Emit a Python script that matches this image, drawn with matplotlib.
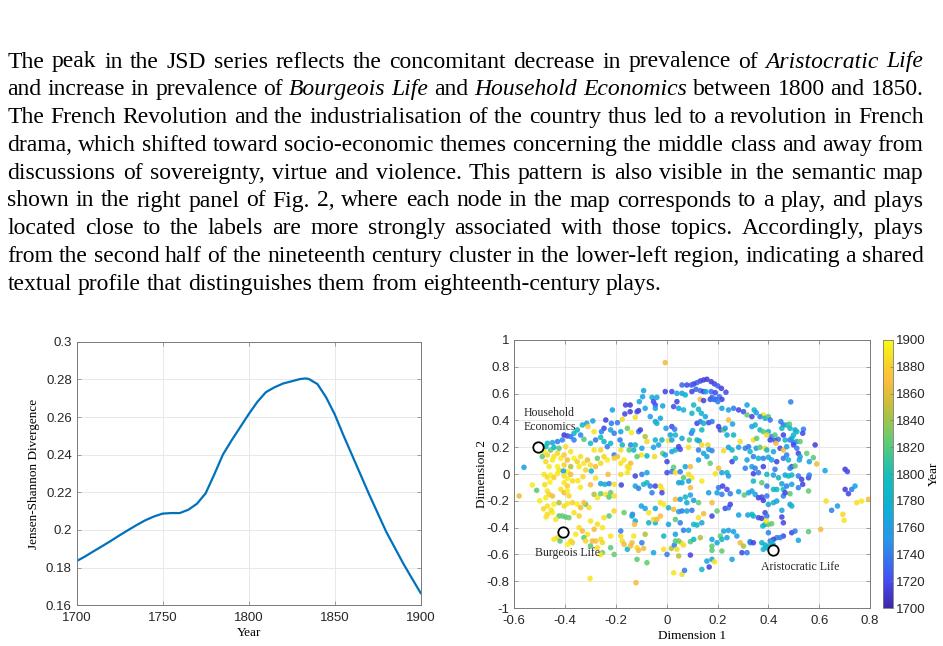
import numpy as np
import matplotlib
matplotlib.use("Agg")
import matplotlib.pyplot as plt
from matplotlib.colors import LinearSegmentedColormap

# ---- paragraph above the figure (segment, italic) ----
paragraph = [
    [("The peak in the JSD series reflects the concomitant decrease in prevalence of", False), ("Aristocratic Life", True)],
    [("and increase in prevalence of", False), ("Bourgeois Life", True), ("and", False), ("Household Economics", True),
     ("between 1800 and 1850.", False)],
    [("The French Revolution and the industrialisation of the country thus led to a revolution in French", False)],
    [("drama, which shifted toward socio-economic themes concerning the middle class and away from", False)],
    [("discussions of sovereignty, virtue and violence. This pattern is also visible in the semantic map", False)],
    [("shown in the right panel of Fig. 2, where each node in the map corresponds to a play, and plays", False)],
    [("located close to the labels are more strongly associated with those topics. Accordingly, plays", False)],
    [("from the second half of the nineteenth century cluster in the lower-left region, indicating a shared", False)],
    [("textual profile that distinguishes them from eighteenth-century plays.", False)],
]

# ---- left panel: JSD series ----
jsd_year = [1700, 1705, 1710, 1715, 1720, 1725, 1730, 1735, 1740, 1745, 1750, 1755, 1760, 1765,
            1770, 1775, 1780, 1785, 1788, 1790, 1795, 1800, 1805, 1810, 1815, 1820, 1825, 1830,
            1833, 1835, 1840, 1845, 1850, 1855, 1860, 1865, 1870, 1875, 1880, 1885, 1890, 1895, 1900]
jsd_value = [0.1835, 0.1860, 0.1888, 0.1915, 0.1943, 0.1972, 0.2000, 0.2027, 0.2052, 0.2072,
             0.2087, 0.2090, 0.2090, 0.2108, 0.2140, 0.2195, 0.2295, 0.2400, 0.2445, 0.2475,
             0.2545, 0.2615, 0.2680, 0.2732, 0.2758, 0.2778, 0.2790, 0.2802, 0.2805, 0.2802,
             0.2775, 0.2705, 0.2615, 0.2505, 0.2400, 0.2295, 0.2190, 0.2090, 0.1990, 0.1905,
             0.1820, 0.1742, 0.1665]

# ---- right panel: semantic map, one point per play ----
# upper-left (Household Economics area)
x_ul = [-0.162, -0.144, -0.214, -0.165, -0.144, -0.175, -0.194, -0.218, -0.240, -0.291,
        -0.315, -0.332, -0.247, -0.257, -0.286, -0.310, -0.221, -0.207, -0.181, -0.155,
        -0.139, -0.184, -0.175, -0.142, -0.148, -0.181, -0.207, -0.260, -0.247, -0.280,
        -0.300, -0.326, -0.352, -0.339, -0.365, -0.404, -0.391, -0.378, -0.365, -0.411,
        -0.430, -0.450, -0.470, -0.476, -0.234, -0.221, -0.260, -0.286, -0.142, -0.168,
        -0.194, -0.148, -0.562, -0.483, -0.470, -0.457, -0.444, -0.430, -0.417, -0.404,
        -0.391, -0.378, -0.365, -0.352, -0.339, -0.326, -0.312, -0.476, -0.463, -0.430,
        -0.404, -0.378, -0.345, -0.300, -0.280, -0.260, -0.234, -0.207, -0.181, -0.155,
        -0.490, -0.444, -0.424, -0.398, -0.450, -0.273, -0.247, -0.424, -0.391, -0.319]
y_ul = [0.515, 0.515, 0.478, 0.448, 0.465, 0.408, 0.383, 0.378, 0.403, 0.396,
        0.378, 0.366, 0.341, 0.316, 0.316, 0.354, 0.329, 0.304, 0.316, 0.341,
        0.309, 0.254, 0.217, 0.217, 0.179, 0.179, 0.142, 0.274, 0.242, 0.254,
        0.229, 0.259, 0.329, 0.291, 0.304, 0.291, 0.284, 0.279, 0.254, 0.254,
        0.242, 0.234, 0.229, 0.204, 0.204, 0.229, 0.179, 0.179, 0.080, 0.105,
        0.130, 0.043, 0.050, 0.167, 0.142, 0.179, 0.130, 0.155, 0.117, 0.142,
        0.105, 0.167, 0.117, 0.092, 0.130, 0.080, 0.105, 0.092, 0.055, 0.055,
        0.067, 0.055, 0.055, 0.067, 0.055, 0.080, 0.105, 0.117, 0.080, 0.055,
        0.130, 0.199, 0.192, 0.204, 0.105, 0.117, 0.130, 0.030, 0.018, 0.030]
yr_ul = [1715, 1712, 1762, 1718, 1715, 1885, 1740, 1738, 1712, 1765,
         1760, 1788, 1716, 1742, 1890, 1880, 1762, 1740, 1765, 1825,
         1892, 1738, 1785, 1742, 1822, 1888, 1740, 1790, 1786, 1736,
         1792, 1820, 1786, 1744, 1784, 1712, 1718, 1738, 1742, 1745,
         1742, 1762, 1790, 1795, 1740, 1788, 1885, 1890, 1866, 1892,
         1868, 1888, 1760, 1895, 1880, 1822, 1890, 1885, 1893, 1878,
         1868, 1890, 1896, 1882, 1888, 1892, 1866, 1885, 1890, 1895,
         1880, 1845, 1892, 1888, 1868, 1885, 1894, 1880, 1890, 1886,
         1822, 1790, 1818, 1888, 1892, 1825, 1884, 1890, 1896, 1882]

# upper-centre (top arc)
x_uc = [-0.006, 0.158, 0.145, 0.132, 0.119, 0.106, 0.097, 0.079, 0.060, 0.175,
        0.188, 0.201, 0.215, 0.233, 0.115, 0.099, 0.132, 0.145, 0.154, 0.175,
        0.191, 0.207, 0.217, 0.191, 0.178, -0.006, 0.020, 0.040, 0.060, 0.073,
        -0.091, -0.095, -0.058, -0.039, -0.052, -0.045, -0.045, -0.108, 0.040, 0.027,
        0.047, 0.066, 0.106, 0.125, 0.099, 0.132, 0.145, 0.171, 0.184, 0.201,
        -0.111, -0.117, -0.085, -0.065, -0.016, -0.124, -0.045, -0.039, -0.025, -0.003,
        0.020, 0.031, 0.034, 0.014, 0.119, 0.132, 0.145, 0.165, 0.178, 0.138,
        0.136, 0.152, 0.097, 0.102, 0.119, 0.128, 0.138, 0.162, 0.204, 0.211,
        0.224, 0.230, 0.243, 0.259, 0.237, 0.263, 0.217, 0.243, 0.263, 0.283,
        0.302, 0.316, 0.316, -0.111, -0.104, -0.085, -0.078, -0.124, -0.045, -0.019,
        0.007, 0.020, 0.060, 0.089, -0.130, -0.098, -0.052, -0.032, -0.016, -0.100,
        -0.048, -0.006, 0.020, 0.034, 0.047, 0.053, 0.086, 0.125, 0.145, 0.158,
        0.165, 0.178, 0.224, 0.243, 0.257, 0.289, 0.283, 0.309, 0.322, -0.117,
        -0.078, 0.001, 0.027, 0.020, 0.073, 0.093, 0.125, 0.171, 0.204, 0.257,
        0.270, 0.316, 0.309]
y_uc = [0.831, 0.707, 0.702, 0.694, 0.682, 0.672, 0.664, 0.664, 0.664, 0.689,
        0.672, 0.657, 0.639, 0.610, 0.632, 0.615, 0.622, 0.615, 0.615, 0.615,
        0.607, 0.577, 0.557, 0.557, 0.572, 0.615, 0.615, 0.602, 0.602, 0.590,
        0.622, 0.577, 0.572, 0.572, 0.540, 0.515, 0.490, 0.540, 0.540, 0.503,
        0.490, 0.478, 0.515, 0.483, 0.453, 0.557, 0.548, 0.557, 0.557, 0.540,
        0.473, 0.465, 0.490, 0.428, 0.508, 0.423, 0.391, 0.378, 0.416, 0.341,
        0.354, 0.334, 0.291, 0.291, 0.378, 0.391, 0.378, 0.383, 0.391, 0.329,
        0.453, 0.428, 0.304, 0.324, 0.254, 0.247, 0.217, 0.217, 0.354, 0.329,
        0.329, 0.341, 0.403, 0.373, 0.291, 0.291, 0.490, 0.478, 0.490, 0.478,
        0.465, 0.515, 0.441, 0.316, 0.329, 0.279, 0.242, 0.217, 0.254, 0.254,
        0.249, 0.254, 0.266, 0.254, 0.179, 0.192, 0.199, 0.217, 0.154, 0.142,
        0.130, 0.142, 0.167, 0.179, 0.204, 0.184, 0.199, 0.179, 0.154, 0.130,
        0.184, 0.174, 0.174, 0.199, 0.179, 0.242, 0.199, 0.192, 0.204, 0.130,
        0.135, 0.092, 0.050, 0.018, 0.055, 0.055, 0.105, 0.080, 0.043, 0.092,
        0.117, 0.105, 0.043]
yr_uc = [1866, 1712, 1714, 1716, 1730, 1715, 1728, 1718, 1732, 1712,
         1716, 1728, 1714, 1718, 1730, 1716, 1735, 1714, 1760, 1735,
         1718, 1738, 1716, 1720, 1734, 1716, 1718, 1762, 1765, 1785,
         1765, 1760, 1782, 1768, 1718, 1720, 1762, 1765, 1716, 1720,
         1762, 1785, 1788, 1784, 1790, 1870, 1716, 1720, 1738, 1742,
         1714, 1718, 1765, 1760, 1766, 1888, 1762, 1786, 1764, 1760,
         1718, 1740, 1788, 1764, 1716, 1740, 1786, 1718, 1738, 1790,
         1784, 1766, 1742, 1762, 1788, 1765, 1885, 1880, 1716, 1720,
         1822, 1765, 1868, 1762, 1766, 1788, 1764, 1760, 1740, 1716,
         1720, 1765, 1825, 1740, 1716, 1845, 1885, 1790, 1786, 1788,
         1890, 1762, 1765, 1820, 1788, 1762, 1765, 1760, 1825, 1890,
         1885, 1762, 1766, 1788, 1716, 1720, 1888, 1740, 1762, 1765,
         1760, 1742, 1885, 1764, 1788, 1886, 1762, 1740, 1738, 1822,
         1786, 1716, 1822, 1740, 1765, 1866, 1762, 1825, 1868, 1716,
         1788, 1764, 1740]

# upper-right
x_ur = [0.488, 0.344, 0.352, 0.380, 0.387, 0.400, 0.407, 0.367, 0.335, 0.449,
        0.459, 0.472, 0.483, 0.485, 0.453, 0.335, 0.348, 0.367, 0.380, 0.400,
        0.394, 0.413, 0.426, 0.439, 0.459, 0.466, 0.485, 0.492, 0.505, 0.499,
        0.512, 0.538, 0.535, 0.341, 0.354, 0.499, 0.512, 0.525, 0.407, 0.426,
        0.352, 0.367, 0.387, 0.394, 0.420, 0.446, 0.459, 0.472, 0.499, 0.512,
        0.518, 0.525, 0.584, 0.430, 0.328, 0.341, 0.361, 0.380, 0.400, 0.413,
        0.433, 0.459, 0.472, 0.479, 0.492, 0.505, 0.522, 0.551, 0.577, 0.561,
        0.590, 0.623, 0.335, 0.348, 0.380, 0.426, 0.485, 0.702, 0.711]
y_ur = [0.538, 0.478, 0.458, 0.441, 0.416, 0.428, 0.403, 0.428, 0.428, 0.391,
        0.366, 0.366, 0.372, 0.341, 0.341, 0.354, 0.366, 0.329, 0.316, 0.316,
        0.291, 0.279, 0.291, 0.259, 0.291, 0.254, 0.254, 0.266, 0.329, 0.291,
        0.316, 0.334, 0.304, 0.254, 0.266, 0.234, 0.242, 0.242, 0.254, 0.249,
        0.192, 0.199, 0.192, 0.179, 0.167, 0.192, 0.179, 0.204, 0.217, 0.192,
        0.154, 0.130, 0.217, 0.229, 0.167, 0.130, 0.117, 0.117, 0.125, 0.105,
        0.092, 0.117, 0.142, 0.105, 0.055, 0.060, 0.105, 0.154, 0.122, 0.092,
        0.075, 0.025, 0.055, 0.043, 0.055, 0.035, 0.043, 0.035, 0.018]
yr_ur = [1742, 1786, 1764, 1890, 1788, 1822, 1738, 1742, 1716, 1740,
         1736, 1788, 1822, 1786, 1790, 1762, 1786, 1788, 1822, 1790,
         1885, 1740, 1820, 1738, 1716, 1788, 1740, 1764, 1762, 1786,
         1790, 1742, 1718, 1888, 1822, 1740, 1762, 1825, 1716, 1720,
         1764, 1822, 1886, 1788, 1762, 1716, 1866, 1764, 1718, 1740,
         1716, 1762, 1714, 1868, 1788, 1740, 1786, 1742, 1762, 1766,
         1716, 1738, 1742, 1788, 1716, 1822, 1764, 1825, 1822, 1762,
         1866, 1764, 1762, 1740, 1716, 1738, 1742, 1714, 1718]

# lower-left (Bourgeois Life area)
x_ll = [-0.407, -0.297, -0.260, -0.244, -0.231, -0.227, -0.207, -0.181, -0.179, -0.155,
        -0.581, -0.512, -0.529, -0.483, -0.470, -0.457, -0.444, -0.430, -0.404, -0.391,
        -0.378, -0.371, -0.404, -0.391, -0.417, -0.404, -0.391, -0.385, -0.470, -0.463,
        -0.450, -0.476, -0.470, -0.444, -0.424, -0.404, -0.391, -0.371, -0.352, -0.339,
        -0.319, -0.306, -0.326, -0.286, -0.273, -0.260, -0.240, -0.227, -0.221, -0.207,
        -0.424, -0.411, -0.398, -0.385, -0.437, -0.470, -0.450, -0.365, -0.345, -0.227,
        -0.247, -0.207, -0.168, -0.135, -0.300, -0.273, -0.253, -0.286, -0.345, -0.332,
        -0.312, -0.326, -0.319, -0.358, -0.378, -0.391, -0.371, -0.293, -0.280, -0.260,
        -0.253, -0.221, -0.300, -0.273, -0.253, -0.221, -0.207, -0.260, -0.444, -0.430,
        -0.420, -0.181, -0.175, -0.168, -0.155, -0.142, -0.181, -0.302, -0.500, -0.480,
        -0.460, -0.455, -0.475, -0.485, -0.350, -0.330, -0.340, -0.300, -0.280]
y_ll = [0.022, 0.022, -0.072, -0.077, -0.003, -0.072, -0.077, -0.003, -0.082, 0.010,
        -0.164, -0.122, -0.082, -0.003, -0.022, -0.008, -0.027, 0.003, -0.015, -0.032,
        -0.003, -0.052, -0.065, -0.089, -0.114, -0.139, -0.127, -0.164, -0.127, -0.152,
        -0.164, -0.177, -0.239, -0.226, -0.214, -0.239, -0.221, -0.214, -0.226, -0.251,
        -0.226, -0.251, -0.214, -0.152, -0.177, -0.147, -0.152, -0.172, -0.139, -0.164,
        -0.313, -0.313, -0.321, -0.326, -0.338, -0.301, -0.288, -0.288, -0.313, -0.313,
        -0.326, -0.276, -0.288, -0.301, -0.351, -0.375, -0.400, -0.413, -0.400, -0.425,
        -0.450, -0.475, -0.500, -0.450, -0.500, -0.525, -0.512, -0.500, -0.500, -0.487,
        -0.512, -0.463, -0.537, -0.550, -0.587, -0.550, -0.600, -0.600, -0.487, -0.475,
        -0.500, -0.463, -0.500, -0.525, -0.562, -0.537, -0.425, -0.779, -0.200, -0.080,
        -0.060, -0.270, -0.320, -0.260, -0.050, -0.020, -0.100, -0.080, -0.030]
yr_ll = [1764, 1788, 1762, 1786, 1868, 1740, 1888, 1885, 1716, 1890,
         1866, 1822, 1892, 1890, 1885, 1896, 1880, 1892, 1888, 1895,
         1868, 1886, 1892, 1880, 1890, 1866, 1894, 1885, 1890, 1882,
         1868, 1892, 1888, 1895, 1845, 1886, 1890, 1882, 1894, 1866,
         1822, 1888, 1870, 1845, 1890, 1825, 1886, 1820, 1825, 1888,
         1822, 1825, 1820, 1828, 1890, 1886, 1894, 1888, 1882, 1822,
         1888, 1885, 1825, 1742, 1890, 1886, 1892, 1866, 1888, 1868,
         1890, 1822, 1885, 1892, 1888, 1894, 1882, 1866, 1870, 1888,
         1885, 1890, 1822, 1886, 1825, 1822, 1826, 1888, 1890, 1885,
         1822, 1888, 1886, 1866, 1788, 1868, 1740, 1890, 1892, 1886,
         1894, 1888, 1890, 1885, 1890, 1885, 1892, 1868, 1888]

# lower-centre
x_lc = [-0.124, -0.098, -0.078, 0.001, 0.034, 0.053, 0.066, 0.086, 0.099, 0.086,
        0.060, 0.047, 0.191, 0.217, 0.237, 0.243, -0.124, -0.111, -0.091, -0.078,
        -0.065, -0.045, -0.025, -0.019, -0.019, -0.058, 0.093, 0.138, 0.204, 0.220,
        0.237, 0.250, 0.217, 0.198, 0.165, 0.283, 0.305, 0.322, 0.034, 0.053,
        0.073, 0.093, 0.079, 0.106, 0.125, -0.025, -0.012, 0.007, 0.027, 0.047,
        0.060, -0.100, -0.085, -0.071, -0.045, -0.137, -0.124, -0.127, -0.071, -0.045,
        -0.052, -0.039, -0.025, 0.007, 0.034, 0.053, 0.079, 0.099, 0.106, 0.119,
        0.125, 0.145, 0.138, 0.178, 0.178, 0.198, 0.230, 0.243, 0.250, 0.283,
        0.319, -0.130, -0.137, -0.117, -0.111, -0.098, -0.091, -0.085, -0.012, 0.034,
        0.066, 0.086, 0.018, 0.030, 0.040, 0.057, 0.066, 0.034, 0.047, 0.093,
        0.106, 0.132, -0.012, -0.052, 0.001, 0.047, 0.093, 0.178, 0.178, 0.198,
        0.211, 0.217, 0.237, 0.224, 0.243, 0.263, 0.276, 0.289, 0.302, 0.316,
        0.296, 0.329, 0.178, 0.217, 0.257, 0.178, 0.158, 0.188, 0.167, -0.117,
        -0.078, 0.027, 0.060, 0.070, 0.138, -0.121]
y_lc = [-0.015, -0.003, 0.010, 0.010, 0.010, 0.017, -0.028, -0.003, -0.028, -0.053,
        -0.065, -0.065, 0.002, 0.010, 0.010, -0.015, -0.090, -0.107, -0.077, -0.065,
        -0.090, -0.090, -0.090, -0.115, -0.140, -0.140, -0.102, -0.053, -0.102, -0.090,
        -0.115, -0.147, -0.152, -0.140, -0.140, -0.132, -0.157, -0.140, -0.189, -0.189,
        -0.172, -0.157, -0.214, -0.197, -0.214, -0.214, -0.227, -0.252, -0.264, -0.281,
        -0.276, -0.239, -0.257, -0.289, -0.257, -0.314, -0.351, -0.376, -0.364, -0.364,
        -0.339, -0.339, -0.314, -0.376, -0.339, -0.364, -0.276, -0.271, -0.376, -0.381,
        -0.326, -0.296, -0.364, -0.214, -0.314, -0.276, -0.257, -0.252, -0.227, -0.306,
        -0.306, -0.463, -0.513, -0.550, -0.570, -0.513, -0.555, -0.450, -0.463, -0.450,
        -0.420, -0.420, -0.555, -0.530, -0.562, -0.513, -0.530, -0.500, -0.500, -0.505,
        -0.488, -0.475, -0.562, -0.587, -0.600, -0.612, -0.605, -0.488, -0.538, -0.513,
        -0.463, -0.488, -0.475, -0.426, -0.421, -0.430, -0.463, -0.513, -0.538, -0.587,
        -0.587, -0.513, -0.570, -0.575, -0.637, -0.637, -0.650, -0.655, -0.694, -0.637,
        -0.662, -0.737, -0.749, -0.719, -0.712, -0.811]
yr_lc = [1716, 1740, 1764, 1718, 1888, 1740, 1822, 1885, 1890, 1762,
         1765, 1760, 1888, 1764, 1788, 1762, 1765, 1740, 1786, 1790,
         1742, 1716, 1886, 1890, 1718, 1740, 1866, 1892, 1738, 1716,
         1720, 1740, 1742, 1764, 1762, 1765, 1822, 1762, 1868, 1764,
         1788, 1762, 1766, 1760, 1825, 1888, 1892, 1788, 1866, 1762,
         1740, 1764, 1762, 1890, 1765, 1762, 1766, 1868, 1786, 1790,
         1885, 1866, 1870, 1762, 1822, 1740, 1764, 1738, 1788, 1786,
         1888, 1866, 1762, 1868, 1716, 1825, 1718, 1740, 1716, 1764,
         1762, 1890, 1866, 1888, 1868, 1740, 1866, 1845, 1788, 1762,
         1740, 1764, 1848, 1742, 1886, 1890, 1885, 1822, 1825, 1820,
         1788, 1845, 1888, 1762, 1740, 1848, 1716, 1764, 1822, 1762,
         1825, 1788, 1762, 1765, 1762, 1764, 1760, 1866, 1845, 1740,
         1718, 1742, 1822, 1825, 1762, 1764, 1766, 1888, 1716, 1822,
         1825, 1890, 1886, 1740, 1788, 1866]

# lower-right (Aristocratic Life area)
x_lr = [0.341, 0.361, 0.394, 0.420, 0.440, 0.466, 0.479, 0.492, 0.518, 0.531,
        0.558, 0.561, 0.341, 0.374, 0.394, 0.420, 0.433, 0.453, 0.459, 0.472,
        0.492, 0.518, 0.535, 0.558, 0.485, 0.335, 0.348, 0.361, 0.374, 0.380,
        0.394, 0.400, 0.420, 0.433, 0.459, 0.466, 0.485, 0.492, 0.387, 0.394,
        0.361, 0.374, 0.387, 0.400, 0.413, 0.453, 0.453, 0.459, 0.335, 0.341,
        0.391, 0.378, 0.492, 0.505, 0.459, 0.446, 0.433, 0.420, 0.407, 0.400,
        0.518, 0.558, 0.606, 0.374, 0.387, 0.394, 0.380, 0.400, 0.413, 0.420,
        0.328, 0.341, 0.627, 0.649, 0.672, 0.693, 0.698, 0.702, 0.715, 0.741,
        0.728, 0.748, 0.767, 0.794]
y_lr = [0.002, 0.010, -0.003, -0.008, -0.028, -0.008, -0.015, -0.008, -0.015, -0.040,
        -0.028, -0.008, -0.053, -0.065, -0.090, -0.115, -0.115, -0.073, -0.115, -0.090,
        -0.077, -0.102, -0.077, -0.127, -0.147, -0.127, -0.152, -0.177, -0.172, -0.197,
        -0.164, -0.227, -0.214, -0.202, -0.164, -0.140, -0.227, -0.239, -0.289, -0.314,
        -0.326, -0.331, -0.376, -0.376, -0.371, -0.271, -0.321, -0.364, -0.301, -0.314,
        -0.351, -0.388, -0.438, -0.426, -0.463, -0.475, -0.475, -0.488, -0.500, -0.438,
        -0.495, -0.430, -0.413, -0.513, -0.530, -0.550, -0.562, -0.538, -0.513, -0.530,
        -0.505, -0.513, -0.202, -0.271, -0.239, -0.301, -0.346, -0.115, -0.147, -0.090,
        -0.115, -0.214, -0.202, -0.189]
yr_lr = [1716, 1740, 1788, 1764, 1786, 1762, 1790, 1786, 1740, 1716,
         1718, 1742, 1788, 1822, 1740, 1786, 1788, 1764, 1790, 1740,
         1762, 1742, 1716, 1825, 1822, 1764, 1762, 1716, 1718, 1714,
         1740, 1762, 1788, 1764, 1742, 1716, 1762, 1786, 1716, 1740,
         1718, 1714, 1762, 1822, 1825, 1764, 1716, 1718, 1788, 1786,
         1890, 1788, 1716, 1740, 1718, 1742, 1740, 1716, 1738, 1742,
         1762, 1822, 1866, 1782, 1784, 1786, 1780, 1785, 1788, 1783,
         1740, 1716, 1888, 1742, 1760, 1885, 1890, 1714, 1716, 1764,
         1740, 1888, 1892, 1868]

# topic anchors on the map
topic_name = ["Household\nEconomics", "Burgeois Life", "Aristocratic Life"]
topic_x = [-0.506, -0.407, 0.420]
topic_y = [0.205, -0.436, -0.565]
label_x = [-0.565, -0.518, 0.371]
label_y = [0.400, -0.587, -0.692]

# MATLAB parula-like colour map
parula = LinearSegmentedColormap.from_list("parula", [
    (0.00, (0.2422, 0.1504, 0.6603)),
    (0.10, (0.2780, 0.3000, 0.9500)),
    (0.25, (0.1540, 0.5902, 0.9218)),
    (0.375, (0.0500, 0.6900, 0.8400)),
    (0.50, (0.0900, 0.7450, 0.7200)),
    (0.625, (0.3900, 0.8000, 0.4400)),
    (0.75, (0.7600, 0.7500, 0.2200)),
    (0.85, (0.9900, 0.7400, 0.2400)),
    (0.92, (0.9700, 0.8400, 0.1600)),
    (1.00, (0.9769, 0.9839, 0.0805)),
])

SERIF = "Liberation Serif"
SANS = "Liberation Sans"
W, H = 943, 646


def style_axes(ax):
    for side, sp in ax.spines.items():
        sp.set_color("#7a7a7a")
        sp.set_linewidth(0.7)
    ax.tick_params(direction="in", length=3, width=0.5, colors="#7a7a7a",
                   labelcolor="#262626", labelsize=9.5, top=True, right=True)
    ax.tick_params(axis="x", pad=5)
    for lab in ax.get_xticklabels() + ax.get_yticklabels():
        lab.set_family(SANS)
    ax.grid(True, color="#e4e4e4", linewidth=0.6)
    ax.set_axisbelow(True)


def draw_paragraph(fig):
    renderer = fig.canvas.get_renderer()
    left, right = 7.5, 923.5
    first_baseline, step = 67.5, 27.8
    for i, line in enumerate(paragraph):
        y = 1 - (first_baseline + i * step) / H
        words = [(w, it) for seg, it in line for w in seg.split()]
        texts = [fig.text(0, y, w, fontsize=17, family=SERIF, va="baseline", ha="left",
                          style="italic" if it else "normal") for w, it in words]
        widths = [t.get_window_extent(renderer).width for t in texts]
        if i == len(paragraph) - 1:
            gap = 0.25 * 17 * 100 / 72
        else:
            gap = (right - left - sum(widths)) / (len(words) - 1)
        x = left
        for t, w in zip(texts, widths):
            t.set_x(x / W)
            x += w + gap


def main():
    fig = plt.figure(figsize=(W / 100, H / 100), dpi=100)
    draw_paragraph(fig)

    # left: JSD time series
    ax1 = fig.add_axes([0.0813, 0.0630, 0.3648, 0.4080])
    ax1.plot(jsd_year, jsd_value, color="#0072BD", linewidth=1.6)
    ax1.set_xlim(1700, 1900)
    ax1.set_ylim(0.16, 0.3)
    yt = np.round(np.arange(16, 31, 2) * 0.01, 2)
    ax1.set_xticks([1700, 1750, 1800, 1850, 1900])
    ax1.set_yticks(yt)
    ax1.set_yticklabels([f"{v:g}" for v in yt])
    style_axes(ax1)
    ax1.set_xlabel("Year", family=SERIF, fontsize=9.5, labelpad=2)
    ax1.set_ylabel("Jensen-Shannon Divergence", family=SERIF, fontsize=9.5, labelpad=4)

    # right: semantic map
    ax2 = fig.add_axes([0.5454, 0.0588, 0.3772, 0.4149])
    dim1 = np.concatenate([x_ul, x_uc, x_ur, x_ll, x_lc, x_lr])
    dim2 = np.concatenate([y_ul, y_uc, y_ur, y_ll, y_lc, y_lr])
    play_year = np.concatenate([yr_ul, yr_uc, yr_ur, yr_ll, yr_lc, yr_lr])
    sc = ax2.scatter(dim1, dim2, c=play_year, cmap=parula, vmin=1700, vmax=1900,
                     s=16, alpha=0.88, linewidths=0)
    ax2.plot(topic_x, topic_y, linestyle="none", marker="o", markersize=7.5,
             markerfacecolor="white", markeredgecolor="black", markeredgewidth=1.3)
    for name, lx, ly in zip(topic_name, label_x, label_y):
        ax2.text(lx, ly, name, family=SERIF, fontsize=8.5, color="#262626",
                 ha="left", va="center", linespacing=1.2)
    ax2.set_xlim(-0.6, 0.8)
    ax2.set_ylim(-1, 1)
    xt = np.round(np.arange(-6, 9, 2) * 0.1, 1)
    yt2 = np.round(np.arange(-10, 11, 2) * 0.1, 1)
    ax2.set_xticks(xt)
    ax2.set_xticklabels([f"{v + 0.0:g}" for v in xt])
    ax2.set_yticks(yt2)
    ax2.set_yticklabels([f"{v + 0.0:g}" for v in yt2])
    style_axes(ax2)
    ax2.set_xlabel("Dimension 1", family=SERIF, fontsize=9.5, labelpad=2)
    ax2.set_ylabel("Dimension 2", family=SERIF, fontsize=9.5, labelpad=-1)

    cax = fig.add_axes([0.9361, 0.0588, 0.0106, 0.4149])
    cb = fig.colorbar(sc, cax=cax)
    cb.solids.set_alpha(1)
    cb.set_ticks(np.arange(1700, 1901, 20))
    cb.outline.set_edgecolor("#7a7a7a")
    cb.outline.set_linewidth(0.6)
    cax.tick_params(direction="in", length=2, width=0.5, colors="#7a7a7a",
                    labelcolor="#262626", labelsize=9.5, pad=2)
    for lab in cax.get_yticklabels():
        lab.set_family(SANS)
    cax.set_ylabel("Year", family=SERIF, fontsize=9.5, labelpad=2)

    fig.savefig("out.png", dpi=100)


if __name__ == "__main__":
    main()
